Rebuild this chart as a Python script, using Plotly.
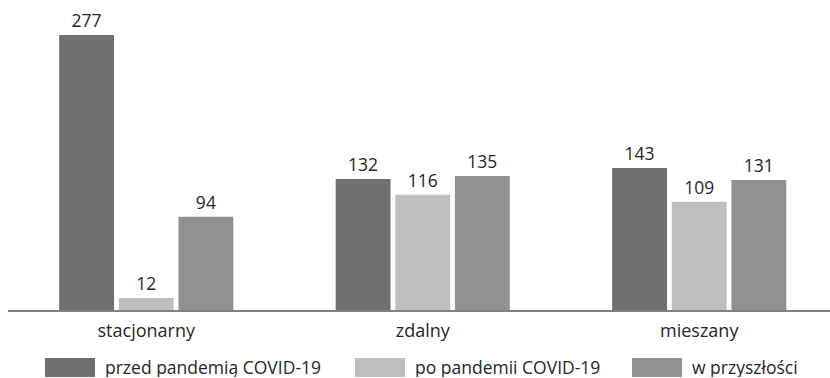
import plotly.graph_objects as go

categories = ["stacjonarny", "zdalny", "mieszany"]
series_names = ["przed pandemią COVID-19", "po pandemii COVID-19", "w przyszłości"]
before = [277, 132, 143]
after = [12, 116, 109]
future = [94, 135, 131]
colors = ["#6f6f6f", "#bebebe", "#909090"]

values = [before, after, future]
FONT = "Open Sans"
TXT = "#262626"

fig = go.Figure()
for name, vals, col in zip(series_names, values, colors):
    fig.add_trace(go.Bar(
        x=categories, y=vals, name=name, marker_color=col,
        marker_line_width=0,
        text=[str(v) for v in vals], textposition="outside",
        textfont=dict(family=FONT, size=17.5, color=TXT),
        cliponaxis=False, showlegend=False,
    ))

# Legend built from wide swatches and labels below the axis
PLOT_W, PLOT_H, BASE = 822, 275, 310
swatch_x = [45, 355, 632]
for name, col, x0 in zip(series_names, colors, swatch_x):
    fig.add_shape(type="rect", xref="paper", yref="paper",
                  x0=(x0 - 8) / PLOT_W, x1=(x0 + 50 - 8) / PLOT_W,
                  y0=-(377 - BASE) / PLOT_H, y1=-(358 - BASE) / PLOT_H,
                  fillcolor=col, line_width=0)
    fig.add_annotation(xref="paper", yref="paper", x=(x0 + 59 - 8) / PLOT_W,
                       y=-(366.5 - BASE) / PLOT_H, text=name, showarrow=False,
                       xanchor="left", yanchor="middle", height=20,
                       borderpad=0, valign="middle",
                       font=dict(family=FONT, size=17.5, color=TXT))

fig.update_layout(
    width=830, height=378,
    margin=dict(l=8, r=0, t=35, b=68),
    paper_bgcolor="white", plot_bgcolor="white",
    barmode="group", bargap=0.353, bargroupgap=0.08,
    xaxis=dict(range=[-0.5, 2.473], showline=True, linecolor="#808080",
               linewidth=1.5, ticks="", showgrid=False, ticklabelstandoff=4,
               tickfont=dict(family=FONT, size=18, color=TXT)),
    yaxis=dict(range=[0, 277], visible=False),
)

fig.write_html("out.html")
